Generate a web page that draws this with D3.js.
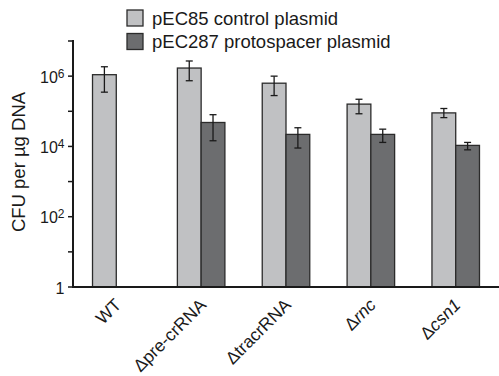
<!DOCTYPE html>
<html>
<head>
<meta charset="utf-8">
<script src="https://cdn.jsdelivr.net/npm/d3@7"></script>
<style>
  body { margin: 0; background: #fff; }
  text { font-family: "Liberation Sans", Arial, sans-serif; fill: #1a1a1a; }
</style>
</head>
<body>
<svg id="chart"></svg>
<script>
var w = 499, h = 376;

// strains on the x axis
var strains = ['WT', 'pre-crRNA', 'tracrRNA', 'rnc', 'csn1'];
var italicStrain = [false, false, false, true, true];
var hasDelta = [false, true, true, true, true];

// series
var seriesNames = ['pEC85 control plasmid', 'pEC287 protospacer plasmid'];
var controlValues = [1.1e6, 1.7e6, 6.3e5, 1.6e5, 9.0e4];
var controlLow = [3.5e5, 7.4e5, 2.8e5, 8.5e4, 6.6e4];
var controlHigh = [1.85e6, 2.7e6, 1.0e6, 2.2e5, 1.2e5];
var protoValues = [null, 4.8e4, 2.2e4, 2.2e4, 1.07e4];
var protoLow = [null, 1.45e4, 9.0e3, 1.3e4, 8.0e3];
var protoHigh = [null, 8.0e4, 3.4e4, 3.1e4, 1.3e4];

// y axis ticks (log10 exponents)
var majorExp = [0, 2, 4, 6];
var minorExp = [1, 3, 5, 7];

var colors = ['#c0c1c3', '#6c6d6f'];

var margin = {left: 73, right: 0, top: 40, bottom: 89};

var svg = d3.select('#chart')
  .attr('width', w)
  .attr('height', h);

var y = d3.scaleLog()
  .domain([1, 1e7])
  .range([h - margin.bottom, margin.top + 1]);

var x0 = d3.scaleBand()
  .domain(strains)
  .range([margin.left, w - margin.right])
  .paddingInner(0.44)
  .paddingOuter(0.23);

var x1 = d3.scaleBand()
  .domain([0, 1])
  .range([0, x0.bandwidth()]);

// bars
var rows = [];
strains.forEach(function(s, i){
  rows.push({strain: s, k: 0, v: controlValues[i], lo: controlLow[i], hi: controlHigh[i]});
  if (protoValues[i] != null)
    rows.push({strain: s, k: 1, v: protoValues[i], lo: protoLow[i], hi: protoHigh[i]});
});

svg.selectAll('rect.bar')
  .data(rows)
  .enter()
  .append('rect')
  .attr('class', 'bar')
  .attr('x', function(d){return x0(d.strain) + x1(d.k);})
  .attr('y', function(d){return y(d.v);})
  .attr('width', x1.bandwidth())
  .attr('height', function(d){return y(1) - y(d.v);})
  .attr('fill', function(d){return colors[d.k];})
  .attr('stroke', '#2b2b2b')
  .attr('stroke-width', 1.3);

// error bars
var err = svg.selectAll('g.err')
  .data(rows)
  .enter()
  .append('g')
  .attr('class', 'err')
  .attr('stroke', '#1a1a1a')
  .attr('stroke-width', 1.3);

err.append('line')
  .attr('x1', function(d){return x0(d.strain) + x1(d.k) + x1.bandwidth() / 2;})
  .attr('x2', function(d){return x0(d.strain) + x1(d.k) + x1.bandwidth() / 2;})
  .attr('y1', function(d){return y(d.lo);})
  .attr('y2', function(d){return y(d.hi);});

[ 'lo', 'hi' ].forEach(function(key){
  err.append('line')
    .attr('x1', function(d){return x0(d.strain) + x1(d.k) + x1.bandwidth() / 2 - 3.5;})
    .attr('x2', function(d){return x0(d.strain) + x1(d.k) + x1.bandwidth() / 2 + 3.5;})
    .attr('y1', function(d){return y(d[key]);})
    .attr('y2', function(d){return y(d[key]);});
});

// y axis
var yAxis = svg.append('g')
  .attr('transform', 'translate(' + margin.left + ',0)');

yAxis.append('line')
  .attr('x1', 0).attr('x2', 0)
  .attr('y1', y(1e7) - 1).attr('y2', y(1))
  .attr('stroke', '#1a1a1a').attr('stroke-width', 2);

yAxis.selectAll('line.tick')
  .data(majorExp.concat(minorExp))
  .enter()
  .append('line')
  .attr('class', 'tick')
  .attr('x1', -5).attr('x2', 0)
  .attr('y1', function(e){return y(Math.pow(10, e));})
  .attr('y2', function(e){return y(Math.pow(10, e));})
  .attr('stroke', '#1a1a1a').attr('stroke-width', 1.5);

var lbl = yAxis.selectAll('text.tl')
  .data(majorExp)
  .enter()
  .append('text')
  .attr('class', 'tl')
  .attr('x', -8.5)
  .attr('y', function(e){return y(Math.pow(10, e)) + 6.5;})
  .attr('text-anchor', 'end')
  .style('font-size', '16px');

lbl.each(function(e){
  var t = d3.select(this);
  if (e === 0) {
    t.text('1');
  } else {
    t.append('tspan').text('10');
    t.append('tspan').attr('dy', -5).style('font-size', '12px').text(e);
  }
});

// x axis line
svg.append('line')
  .attr('x1', margin.left - 1).attr('x2', w)
  .attr('y1', y(1)).attr('y2', y(1))
  .attr('stroke', '#1a1a1a').attr('stroke-width', 2);

// x labels
strains.forEach(function(s, i){
  var cx = x0(s) + x0.bandwidth() / 2 + 6;
  var t = svg.append('text')
    .attr('transform', 'translate(' + cx + ',' + (y(1) + 19) + ') rotate(-45)')
    .attr('text-anchor', 'end')
    .style('font-size', '17.5px');
  if (hasDelta[i]) t.append('tspan').text('\u0394');
  t.append('tspan')
    .style('font-style', italicStrain[i] ? 'italic' : 'normal')
    .text(s);
});

// y label
svg.append('text')
  .attr('transform', 'translate(25,162) rotate(-90)')
  .attr('text-anchor', 'middle')
  .style('font-size', '18.5px')
  .text('CFU per \u00b5g DNA');

// legend
var legend = svg.selectAll('g.legend')
  .data(seriesNames)
  .enter()
  .append('g')
  .attr('class', 'legend')
  .attr('transform', function(d, i){return 'translate(127,' + (10 + i * 23.5) + ')';});

legend.append('rect')
  .attr('width', 16).attr('height', 16)
  .attr('fill', function(d, i){return colors[i];})
  .attr('stroke', '#2b2b2b').attr('stroke-width', 1.3);

legend.append('text')
  .attr('x', 25).attr('y', 14.5)
  .style('font-size', '18.5px')
  .text(function(d){return d;});
</script>
</body>
</html>
